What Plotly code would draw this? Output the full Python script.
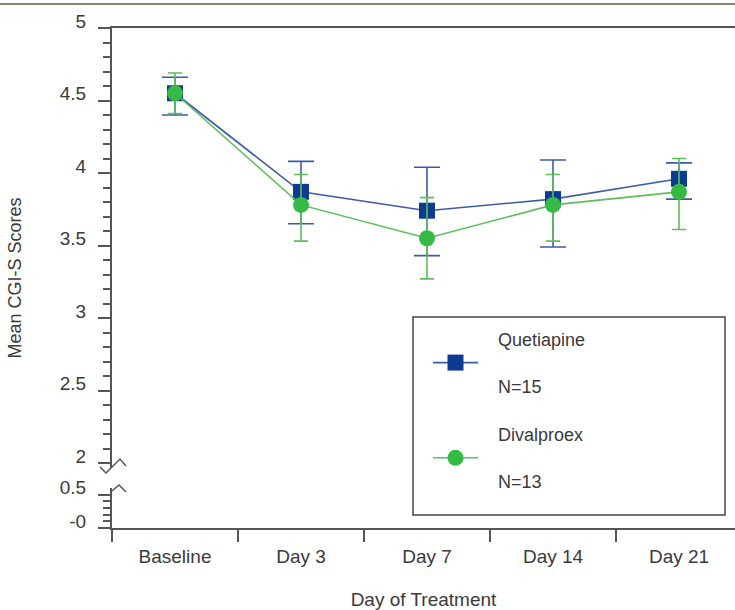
import plotly.graph_objects as go

# ---------------- data ----------------
categories = ["Baseline", "Day 3", "Day 7", "Day 14", "Day 21"]

quet_name = "\u00a0\u00a0\u00a0Quetiapine<br><br>\u00a0\u00a0\u00a0N=15"
quet_mean = [4.55, 3.87, 3.74, 3.82, 3.96]
quet_upper = [4.66, 4.08, 4.04, 4.09, 4.07]
quet_lower = [4.40, 3.65, 3.43, 3.49, 3.82]

dival_name = "\u00a0\u00a0\u00a0Divalproex<br><br>\u00a0\u00a0\u00a0N=13"
dival_mean = [4.55, 3.78, 3.55, 3.78, 3.87]
dival_upper = [4.69, 3.99, 3.83, 3.99, 4.10]
dival_lower = [4.41, 3.53, 3.27, 3.53, 3.61]

y_major_values = [0, 0.5, 2, 2.5, 3, 3.5, 4, 4.5, 5]
y_major_labels = ["-0", "0.5", "2", "2.5", "3", "3.5", "4", "4.5", "5"]
y_minor_values = [0.1, 0.2, 0.3, 0.4] + [
    round(2 + 0.1 * i, 1) for i in range(1, 30) if i % 5 != 0
]

# ---------------- layout geometry ----------------
W, H = 735, 610
ML, MR, MT, MB = 112, 0, 28, 82
PW, PH = W - ML - MR, H - MT - MB
PX_PER_UNIT = 145.0
Y_TOP = 5.0
Y_BOTTOM = Y_TOP - PH / PX_PER_UNIT
BREAK = 2.0
LOWER_SCALE = 0.462  # axis units per value unit below the break


def ypos(v):
    return v if v >= BREAK else Y_BOTTOM + LOWER_SCALE * v


def xp(px):
    return (px - ML) / PW


def yv(py):
    return Y_TOP - (py - MT) / PX_PER_UNIT


def yp(py):
    return (H - MB - py) / PH


BLUE_M = "#0e3b92"
BLUE_L = "#3d5ba8"
GREEN_M = "#35bb43"
GREEN_L = "#5cbf5a"
AX = "#555555"
TXT = "#3a3a3a"
FONT = "Liberation Sans, Arial, sans-serif"

fig = go.Figure()

fig.add_trace(go.Scatter(
    x=categories, y=quet_mean, name=quet_name, legendgroup="q",
    mode="lines+markers",
    line=dict(color=BLUE_L, width=1.6),
    marker=dict(symbol="square", size=16, color=BLUE_M,
                line=dict(color=BLUE_M, width=0)),
    error_y=dict(type="data", symmetric=False,
                 array=[u - m for u, m in zip(quet_upper, quet_mean)],
                 arrayminus=[m - l for m, l in zip(quet_mean, quet_lower)],
                 color=BLUE_L, thickness=1.6, width=13),
))
fig.add_trace(go.Scatter(
    x=categories, y=dival_mean, name=dival_name, legendgroup="d",
    mode="lines+markers",
    line=dict(color=GREEN_L, width=1.6),
    marker=dict(symbol="circle", size=16, color=GREEN_M,
                line=dict(color=GREEN_M, width=0)),
    error_y=dict(type="data", symmetric=False,
                 array=[u - m for u, m in zip(dival_upper, dival_mean)],
                 arrayminus=[m - l for m, l in zip(dival_mean, dival_lower)],
                 color=GREEN_L, thickness=1.6, width=7),
))

shapes = [
    # legend frame
    dict(type="rect", xref="paper", yref="paper",
         x0=xp(413), x1=xp(725), y0=yp(515), y1=yp(317),
         line=dict(color="#444444", width=1.5), fillcolor="rgba(0,0,0,0)"),
    # outer top frame line
    dict(type="line", xref="paper", yref="paper",
         x0=xp(0), x1=1, y0=yp(4), y1=yp(4),
         line=dict(color="#8a8170", width=2)),
    # gap in the y axis at the break
    dict(type="rect", xref="paper", yref="y", layer="above",
         x0=xp(108), x1=xp(116), y0=yv(488), y1=yv(468),
         line=dict(width=0), fillcolor="white"),
    # break marks
    dict(type="path", xref="paper", yref="y", layer="above",
         path=("M {} {} L {} {} L {} {} L {} {}".format(
             xp(100), yv(467), xp(106), yv(473),
             xp(120), yv(459), xp(126), yv(466))),
         line=dict(color=AX, width=1.5)),
    dict(type="path", xref="paper", yref="y", layer="above",
         path=("M {} {} L {} {} L {} {}".format(
             xp(112), yv(491), xp(119), yv(485), xp(126), yv(492))),
         line=dict(color=AX, width=1.5)),
]

fig.update_layout(
    width=W, height=H,
    margin=dict(l=ML, r=MR, t=MT, b=MB),
    paper_bgcolor="white", plot_bgcolor="white",
    font=dict(family=FONT, size=19, color=TXT),
    showlegend=True,
    legend=dict(x=xp(428), y=yp(321), xanchor="left", yanchor="top",
                bgcolor="rgba(0,0,0,0)", borderwidth=0,
                font=dict(size=18, color=TXT), itemwidth=45,
                tracegroupgap=22, valign="middle", traceorder="grouped"),
    shapes=shapes,
    xaxis=dict(
        type="category", range=[-0.5, -0.5 + PW / 126.0],
        showline=True, linecolor=AX, linewidth=2, mirror=True,
        ticks="outside", ticklen=12, tickwidth=2, tickcolor=AX,
        tickson="boundaries", showgrid=False, zeroline=False,
        tickfont=dict(size=19, color=TXT), automargin=False,
        ticklabelstandoff=10,
        title=dict(text="Day of Treatment", font=dict(size=19, color=TXT),
                   standoff=30),
    ),
    yaxis=dict(
        range=[Y_BOTTOM, Y_TOP],
        tickmode="array",
        tickvals=[ypos(v) for v in y_major_values],
        ticktext=y_major_labels,
        showline=True, linecolor=AX, linewidth=2,
        ticks="outside", ticklen=12, tickwidth=2, tickcolor=AX,
        minor=dict(tickmode="array",
                   tickvals=[ypos(v) for v in y_minor_values],
                   ticks="outside", ticklen=7, tickwidth=2, tickcolor=AX,
                   showgrid=False),
        showgrid=False, zeroline=False,
        tickfont=dict(size=19, color=TXT), automargin=False,
        ticklabelshift=-7, ticklabelstandoff=8,
        title=dict(text="Mean CGI-S Scores", font=dict(size=18, color=TXT),
                   standoff=33),
    ),
)

fig.write_html("out.html")
